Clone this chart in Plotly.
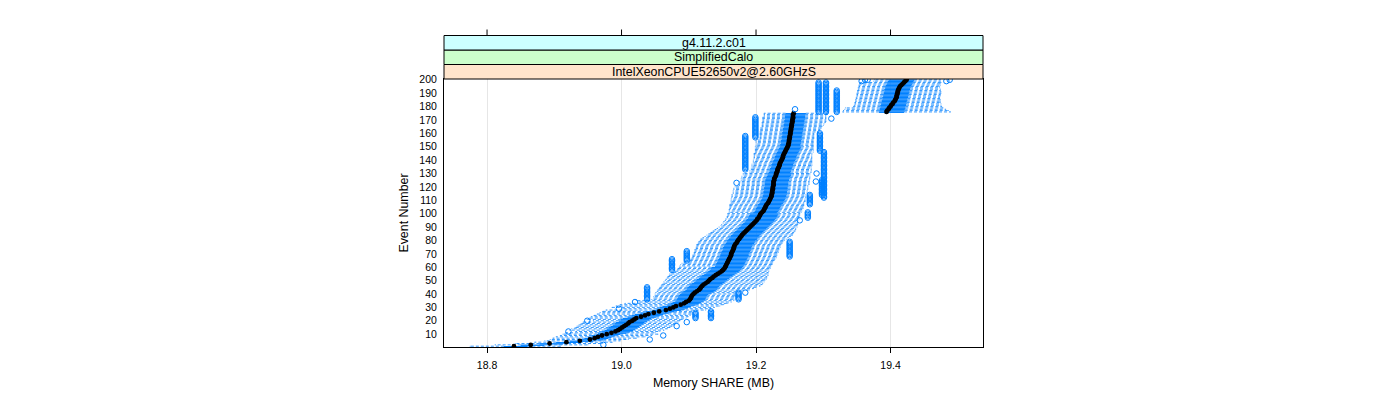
import plotly.graph_objects as go

# ---------------- data ----------------
events = list(range(1, 201))

medians = [
    18.840, 18.865, 18.893, 18.918, 18.938, 18.953, 18.960, 18.965, 18.971, 18.978,
    18.985, 18.991, 18.995, 18.998, 19.001, 19.004, 19.007, 19.010, 19.012, 19.016,
    19.019, 19.022, 19.029, 19.035, 19.040, 19.048, 19.056, 19.066, 19.072, 19.077,
    19.081, 19.088, 19.093, 19.096, 19.100, 19.102, 19.103, 19.104, 19.105, 19.107,
    19.109, 19.112, 19.115, 19.117, 19.118, 19.120, 19.122, 19.125, 19.128, 19.130,
    19.132, 19.135, 19.137, 19.140, 19.143, 19.146, 19.149, 19.151, 19.153, 19.154,
    19.155, 19.156, 19.157, 19.158, 19.159, 19.160, 19.161, 19.162, 19.163, 19.163,
    19.164, 19.165, 19.166, 19.167, 19.167, 19.168, 19.169, 19.171, 19.172, 19.173,
    19.175, 19.176, 19.178, 19.179, 19.181, 19.183, 19.185, 19.187, 19.189, 19.191,
    19.193, 19.195, 19.197, 19.199, 19.201, 19.202, 19.204, 19.205, 19.206, 19.207,
    19.209, 19.211, 19.212, 19.213, 19.214, 19.215, 19.216, 19.218, 19.219, 19.220,
    19.221, 19.222, 19.223, 19.223, 19.224, 19.224, 19.224, 19.225, 19.225, 19.225,
    19.226, 19.226, 19.226, 19.226, 19.227, 19.227, 19.228, 19.229, 19.230, 19.230,
    19.231, 19.232, 19.232, 19.233, 19.234, 19.235, 19.235, 19.236, 19.237, 19.238,
    19.239, 19.240, 19.240, 19.241, 19.242, 19.243, 19.244, 19.245, 19.246, 19.247,
    19.248, 19.248, 19.249, 19.249, 19.249, 19.250, 19.250, 19.250, 19.251, 19.251,
    19.251, 19.252, 19.252, 19.252, 19.253, 19.253, 19.253, 19.254, 19.254, 19.254,
    19.255, 19.255, 19.255, 19.255, 19.256, 19.394, 19.395, 19.397, 19.398, 19.400,
    19.401, 19.403, 19.404, 19.406, 19.407, 19.408, 19.409, 19.409, 19.410, 19.410,
    19.411, 19.411, 19.412, 19.413, 19.414, 19.416, 19.418, 19.420, 19.422, 19.424,
]

q1 = [
    18.825, 18.850, 18.878, 18.903, 18.923, 18.938, 18.945, 18.950, 18.956, 18.963,
    18.965, 18.971, 18.975, 18.978, 18.981, 18.984, 18.987, 18.990, 18.992, 18.996,
    18.999, 19.002, 19.009, 19.015, 19.020, 19.028, 19.036, 19.046, 19.052, 19.057,
    19.061, 19.068, 19.073, 19.076, 19.080, 19.082, 19.083, 19.084, 19.085, 19.087,
    19.089, 19.092, 19.095, 19.097, 19.098, 19.100, 19.102, 19.105, 19.108, 19.110,
    19.112, 19.115, 19.117, 19.120, 19.123, 19.126, 19.129, 19.131, 19.133, 19.134,
    19.139, 19.140, 19.141, 19.142, 19.143, 19.144, 19.145, 19.146, 19.147, 19.147,
    19.148, 19.149, 19.150, 19.151, 19.151, 19.152, 19.153, 19.155, 19.156, 19.157,
    19.159, 19.160, 19.162, 19.163, 19.165, 19.167, 19.169, 19.171, 19.173, 19.175,
    19.177, 19.179, 19.181, 19.183, 19.185, 19.186, 19.188, 19.189, 19.190, 19.191,
    19.196, 19.198, 19.199, 19.200, 19.201, 19.202, 19.203, 19.205, 19.206, 19.207,
    19.208, 19.209, 19.210, 19.210, 19.211, 19.211, 19.211, 19.212, 19.212, 19.212,
    19.213, 19.213, 19.213, 19.213, 19.214, 19.214, 19.215, 19.216, 19.217, 19.217,
    19.219, 19.220, 19.220, 19.221, 19.222, 19.223, 19.223, 19.224, 19.225, 19.226,
    19.227, 19.228, 19.228, 19.229, 19.230, 19.231, 19.232, 19.233, 19.234, 19.235,
    19.236, 19.236, 19.237, 19.237, 19.237, 19.238, 19.238, 19.238, 19.239, 19.239,
    19.239, 19.240, 19.240, 19.240, 19.241, 19.241, 19.241, 19.242, 19.242, 19.242,
    19.243, 19.243, 19.243, 19.243, 19.244, 19.383, 19.383, 19.384, 19.384, 19.385,
    19.385, 19.386, 19.386, 19.387, 19.387, 19.388, 19.388, 19.389, 19.389, 19.390,
    19.390, 19.391, 19.391, 19.392, 19.392, 19.393, 19.394, 19.395, 19.396, 19.397,
]

q3 = [
    18.860, 18.885, 18.913, 18.938, 18.958, 18.973, 18.980, 18.985, 18.991, 18.998,
    19.007, 19.013, 19.017, 19.020, 19.023, 19.026, 19.029, 19.032, 19.034, 19.038,
    19.041, 19.044, 19.051, 19.057, 19.062, 19.070, 19.078, 19.088, 19.094, 19.099,
    19.103, 19.110, 19.115, 19.118, 19.122, 19.124, 19.125, 19.126, 19.127, 19.129,
    19.134, 19.137, 19.140, 19.142, 19.143, 19.145, 19.147, 19.150, 19.153, 19.155,
    19.157, 19.160, 19.162, 19.165, 19.168, 19.171, 19.174, 19.176, 19.178, 19.179,
    19.181, 19.182, 19.183, 19.184, 19.185, 19.186, 19.187, 19.188, 19.189, 19.189,
    19.190, 19.191, 19.192, 19.193, 19.193, 19.194, 19.195, 19.197, 19.198, 19.199,
    19.201, 19.202, 19.204, 19.205, 19.207, 19.209, 19.211, 19.213, 19.215, 19.217,
    19.219, 19.221, 19.223, 19.225, 19.227, 19.228, 19.230, 19.231, 19.232, 19.233,
    19.231, 19.233, 19.234, 19.235, 19.236, 19.237, 19.238, 19.240, 19.241, 19.242,
    19.243, 19.244, 19.245, 19.245, 19.246, 19.246, 19.246, 19.247, 19.247, 19.247,
    19.248, 19.248, 19.248, 19.248, 19.249, 19.249, 19.250, 19.251, 19.252, 19.252,
    19.251, 19.252, 19.252, 19.253, 19.254, 19.255, 19.255, 19.256, 19.257, 19.258,
    19.259, 19.260, 19.260, 19.261, 19.262, 19.263, 19.264, 19.265, 19.266, 19.267,
    19.266, 19.266, 19.267, 19.267, 19.267, 19.268, 19.268, 19.268, 19.269, 19.269,
    19.269, 19.270, 19.270, 19.270, 19.271, 19.271, 19.271, 19.272, 19.272, 19.272,
    19.273, 19.273, 19.273, 19.273, 19.274, 19.420, 19.421, 19.421, 19.422, 19.422,
    19.423, 19.423, 19.424, 19.424, 19.425, 19.425, 19.426, 19.426, 19.427, 19.427,
    19.428, 19.428, 19.429, 19.429, 19.430, 19.431, 19.432, 19.433, 19.434, 19.435,
]

whisk_lo = [
    18.775, 18.812, 18.842, 18.871, 18.886, 18.894, 18.898, 18.903, 18.909, 18.913,
    18.917, 18.932, 18.923, 18.926, 18.931, 18.934, 18.937, 18.940, 18.943, 18.958,
    18.949, 18.952, 18.955, 18.959, 18.964, 18.968, 18.972, 18.977, 19.002, 18.986,
    18.992, 18.998, 19.005, 19.026, 19.022, 19.045, 19.048, 19.048, 19.050, 19.050,
    19.051, 19.053, 19.054, 19.056, 19.057, 19.059, 19.060, 19.062, 19.063, 19.065,
    19.066, 19.068, 19.069, 19.071, 19.072, 19.077, 19.080, 19.083, 19.084, 19.086,
    19.087, 19.088, 19.090, 19.093, 19.102, 19.103, 19.105, 19.106, 19.106, 19.108,
    19.108, 19.109, 19.109, 19.111, 19.111, 19.112, 19.112, 19.114, 19.115, 19.117,
    19.118, 19.121, 19.124, 19.127, 19.130, 19.133, 19.136, 19.139, 19.142, 19.145,
    19.148, 19.149, 19.151, 19.152, 19.154, 19.155, 19.157, 19.157, 19.158, 19.158,
    19.160, 19.160, 19.160, 19.161, 19.161, 19.161, 19.161, 19.163, 19.163, 19.163,
    19.163, 19.164, 19.164, 19.164, 19.166, 19.166, 19.166, 19.167, 19.167, 19.169,
    19.175, 19.175, 19.176, 19.176, 19.178, 19.178, 19.179, 19.179, 19.181, 19.181,
    19.191, 19.191, 19.193, 19.193, 19.194, 19.194, 19.194, 19.196, 19.196, 19.196,
    19.197, 19.197, 19.197, 19.197, 19.197, 19.199, 19.199, 19.199, 19.199, 19.199,
    19.200, 19.200, 19.200, 19.200, 19.200, 19.206, 19.206, 19.206, 19.206, 19.206,
    19.206, 19.207, 19.207, 19.207, 19.209, 19.209, 19.209, 19.209, 19.210, 19.210,
    19.210, 19.210, 19.212, 19.212, 19.212, 19.329, 19.330, 19.332, 19.333, 19.345,
    19.346, 19.347, 19.347, 19.348, 19.348, 19.349, 19.349, 19.350, 19.350, 19.350,
    19.351, 19.351, 19.352, 19.352, 19.353, 19.353, 19.354, 19.355, 19.375, 19.376,
]

whisk_hi = [
    18.909, 18.950, 18.972, 18.986, 18.998, 19.010, 19.022, 19.035, 19.045, 19.054,
    19.050, 19.057, 19.063, 19.068, 19.072, 19.075, 19.078, 19.081, 19.084, 19.087,
    19.091, 19.096, 19.099, 19.102, 19.105, 19.106, 19.112, 19.125, 19.132, 19.138,
    19.146, 19.152, 19.158, 19.163, 19.167, 19.167, 19.167, 19.169, 19.169, 19.169,
    19.170, 19.178, 19.190, 19.196, 19.200, 19.206, 19.209, 19.210, 19.212, 19.213,
    19.215, 19.216, 19.216, 19.218, 19.218, 19.218, 19.219, 19.219, 19.221, 19.221,
    19.222, 19.224, 19.224, 19.225, 19.227, 19.228, 19.230, 19.230, 19.231, 19.231,
    19.233, 19.233, 19.234, 19.234, 19.236, 19.236, 19.237, 19.239, 19.240, 19.242,
    19.245, 19.248, 19.251, 19.254, 19.255, 19.256, 19.258, 19.259, 19.259, 19.261,
    19.261, 19.262, 19.262, 19.262, 19.262, 19.264, 19.264, 19.264, 19.265, 19.265,
    19.267, 19.268, 19.268, 19.270, 19.270, 19.271, 19.271, 19.271, 19.273, 19.273,
    19.273, 19.274, 19.274, 19.274, 19.276, 19.276, 19.276, 19.277, 19.277, 19.277,
    19.277, 19.279, 19.279, 19.279, 19.279, 19.280, 19.280, 19.280, 19.280, 19.280,
    19.282, 19.282, 19.282, 19.282, 19.282, 19.283, 19.283, 19.283, 19.283, 19.283,
    19.283, 19.283, 19.283, 19.283, 19.283, 19.285, 19.285, 19.285, 19.285, 19.285,
    19.285, 19.285, 19.285, 19.285, 19.285, 19.286, 19.286, 19.286, 19.286, 19.286,
    19.292, 19.294, 19.295, 19.297, 19.298, 19.300, 19.301, 19.303, 19.304, 19.304,
    19.304, 19.304, 19.304, 19.306, 19.306, 19.489, 19.486, 19.482, 19.478, 19.476,
    19.475, 19.475, 19.474, 19.474, 19.474, 19.473, 19.473, 19.474, 19.474, 19.475,
    19.475, 19.474, 19.474, 19.473, 19.473, 19.474, 19.474, 19.475, 19.474, 19.474,
]

# outliers: (first event, last event, value) -- one point per event in the run
outlier_runs = [
    (12, 12, 18.921), (20, 20, 18.949), (29, 29, 18.996), (34, 34, 19.020),
    (36, 45, 19.038), (58, 66, 19.075), (65, 72, 19.097), (123, 123, 19.171),
    (133, 158, 19.184), (157, 172, 19.199),
    (2, 2, 18.973), (6, 6, 19.042), (9, 9, 19.062), (16, 16, 19.082),
    (19, 19, 19.097), (22, 26, 19.110), (22, 27, 19.133), (36, 41, 19.174),
    (41, 41, 19.184), (68, 79, 19.250), (95, 95, 19.265), (97, 101, 19.277),
    (107, 114, 19.280), (114, 125, 19.298), (112, 146, 19.301),
    (147, 160, 19.295), (124, 124, 19.289), (130, 130, 19.290), (171, 171, 19.312),
    (176, 198, 19.293), (176, 198, 19.304), (176, 192, 19.320), (178, 178, 19.258),
    (199, 199, 19.357), (200, 200, 19.366), (200, 200, 19.362),
    (199, 199, 19.483), (200, 200, 19.488),
]

x_ticks = [18.8, 19.0, 19.2, 19.4]
x_ticklabels = ["18.8", "19.0", "19.2", "19.4"]
y_ticks = list(range(10, 201, 10))
strip_labels = ["IntelXeonCPUE52650v2@2.60GHzS", "SimplifiedCalo", "g4.11.2.c01"]
strip_colors = ["#ffe5cc", "#ccffcc", "#ccffff"]

# ---------------- styling ----------------
BLUE = "#0080ff"
FONT = "Liberation Sans, Arial, Helvetica, sans-serif"
HALF = 0.25          # half box height (box.ratio = 1)
M_L, M_T = 436, 71   # page body adds an 8px offset
PLOT_W, PLOT_H = 539, 268

# ---------------- build mark geometry from the data ----------------
wx, wy, sx, sy, bx, by = [], [], [], [], [], []
for e, lo, a, b, hi in zip(events, whisk_lo, q1, q3, whisk_hi):
    wx += [a, lo, None, b, hi, None]
    wy += [e, e, None, e, e, None]
    sx += [lo, lo, None, hi, hi, None]
    sy += [e - HALF, e + HALF, None, e - HALF, e + HALF, None]
    bx += [a, b, b, a, a, None]
    by += [e - HALF, e - HALF, e + HALF, e + HALF, e - HALF, None]

ox, oy = [], []
for e0, e1, v in outlier_runs:
    for e in range(e0, e1 + 1):
        ox.append(v)
        oy.append(e)

fig = go.Figure()
fig.add_trace(go.Scatter(x=wx, y=wy, mode="lines", hoverinfo="skip",
                         line=dict(color=BLUE, width=0.8, dash="3px,2px")))
fig.add_trace(go.Scatter(x=sx, y=sy, mode="lines", hoverinfo="skip",
                         line=dict(color=BLUE, width=0.9)))
fig.add_trace(go.Scatter(x=bx, y=by, mode="lines", hoverinfo="skip",
                         line=dict(color=BLUE, width=1)))
fig.add_trace(go.Scatter(x=medians, y=events, mode="markers",
                         marker=dict(color="black", size=4.8, line=dict(width=0))))
fig.add_trace(go.Scatter(x=ox, y=oy, mode="markers",
                         marker=dict(symbol="circle-open", color=BLUE, size=5.5,
                                     line=dict(width=1, color=BLUE))))

# strips above the panel
strip_h = 14.5 / PLOT_H
shapes = []
annotations = []
for i, (lab, col) in enumerate(zip(strip_labels, strip_colors)):
    y0 = 1 + i * strip_h
    y1 = y0 + strip_h
    shapes.append(dict(type="rect", xref="paper", yref="paper", x0=0, x1=1,
                       y0=y0, y1=y1, fillcolor=col, line=dict(color="black", width=1),
                       layer="above"))
    annotations.append(dict(text=lab, xref="paper", yref="paper", x=0.5,
                            y=(y0 + y1) / 2, showarrow=False, xanchor="center",
                            yanchor="middle", font=dict(family=FONT, size=12.4, color="black")))
top = 1 + 3 * strip_h
for t in x_ticks:
    shapes.append(dict(type="line", xref="x", yref="paper", x0=t, x1=t,
                       y0=top, y1=top + 6 / PLOT_H, line=dict(color="black", width=1)))

fig.update_layout(
    width=1400, height=400,
    margin=dict(l=M_L, r=1400 - M_L - PLOT_W, t=M_T, b=400 - M_T - PLOT_H),
    plot_bgcolor="white", paper_bgcolor="white",
    showlegend=False,
    font=dict(family=FONT, size=10.5, color="black"),
    shapes=shapes, annotations=annotations,
    xaxis=dict(range=[18.736, 19.5375], tickvals=x_ticks, ticktext=x_ticklabels,
               ticks="outside", ticklen=5, tickcolor="black", ticklabelstandoff=3,
               showline=True, mirror=True, linecolor="black", linewidth=1,
               showgrid=True, gridcolor="#e6e6e6", zeroline=False,
               title=dict(text="Memory SHARE (MB)", font=dict(size=12.4), standoff=8)),
    yaxis=dict(range=[0.4, 200.6], tickvals=y_ticks, ticks="outside", ticklen=4,
               tickcolor="rgba(0,0,0,0)", showline=True, mirror=True,
               linecolor="black", linewidth=1, showgrid=False, zeroline=False,
               title=dict(text="Event Number", font=dict(size=12.4), standoff=8)),
)

fig.write_html("out.html")
